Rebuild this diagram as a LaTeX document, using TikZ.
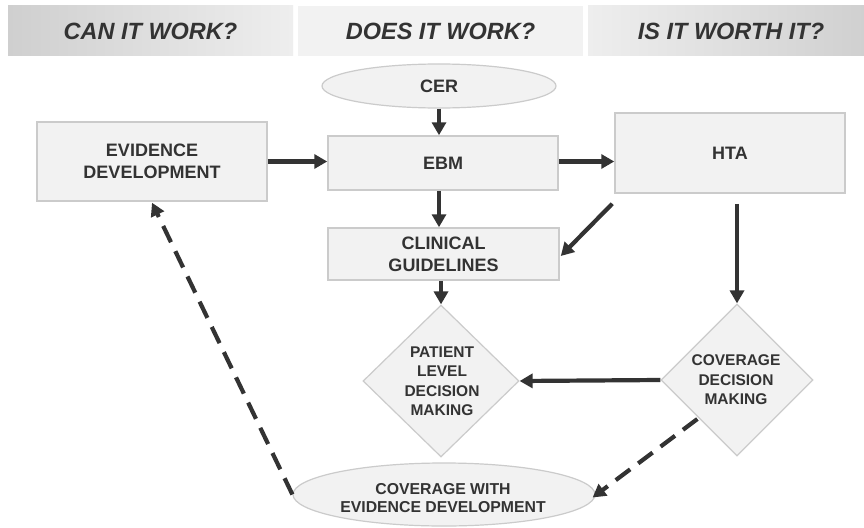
\documentclass[tikz,border=0pt]{standalone}
\usepackage{fontspec}
\setmainfont{Liberation Sans}
\usetikzlibrary{arrows.meta,shapes.geometric}
\definecolor{txt}{HTML}{333333}
\definecolor{boxfill}{HTML}{F2F2F2}
\definecolor{boxline}{HTML}{CBCBCB}
\definecolor{hdrdark}{HTML}{CFCFCF}
\definecolor{hdrlight}{HTML}{EEEEEE}
\begin{document}
\begin{tikzpicture}[x=1pt,y=-1pt,
  hdr/.style={rectangle, inner sep=0, minimum height=50pt, text=txt,
    font=\fontsize{23.5}{28}\selectfont\bfseries\itshape},
  box/.style={rectangle, draw=boxline, fill=boxfill, line width=1.5pt, inner sep=0,
    align=center, text=txt, font=\fontsize{18}{21.7}\selectfont\bfseries},
  ell/.style={ellipse, draw=boxline, fill=boxfill, line width=1.2pt, inner sep=0,
    align=center, text=txt},
  dia/.style={diamond, draw=boxline, fill=boxfill, line width=1.2pt, inner sep=0},
  diatext/.style={align=center, text=txt, inner sep=0,
    font=\fontsize{15.5}{19.5}\selectfont\bfseries},
  arr/.style={draw=txt, line width=4.2pt, -{Triangle[length=13pt,width=14pt]}},
  dasharr/.style={arr, dash pattern=on 18pt off 10pt}
]
\useasboundingbox (0,0) rectangle (864,527);
\fill[white] (0,0) rectangle (864,527);

% header bands
\node[hdr, minimum width=285pt, left color=hdrdark, right color=hdrlight] (h1) at (150.5,31) {CAN IT WORK?};
\node[hdr, minimum width=285pt, fill=boxfill] (h2) at (440.5,31) {DOES IT WORK?};
\node[hdr, minimum width=286pt, left color=hdrlight, right color=hdrdark] (h3) at (731,31) {IS IT WORTH IT?};

% nodes
\node[ell, minimum width=234pt, minimum height=44pt, font=\fontsize{18}{21.7}\selectfont\bfseries] (cer) at (439,86) {CER};
\node[box, minimum width=230pt, minimum height=54pt] (ebm) at (443,163) {EBM};
\node[box, minimum width=230pt, minimum height=79pt] (ev) at (152,161.5) {EVIDENCE\\DEVELOPMENT};
\node[box, minimum width=230pt, minimum height=80pt] (hta) at (730,153) {HTA};
\node[box, minimum width=231pt, minimum height=52pt] (clin) at (443.5,254) {CLINICAL\\GUIDELINES};
\node[dia, minimum width=156pt, minimum height=152pt] (pd) at (441,381) {};
\node[diatext] (pdt) at (442,381) {PATIENT\\LEVEL\\DECISION\\MAKING};
\node[dia, minimum width=152pt, minimum height=152pt] (cd) at (737,380) {};
\node[diatext] (cdt) at (736,380) {COVERAGE\\DECISION\\MAKING};
\node[ell, minimum width=302pt, minimum height=63pt] (ced) at (444,494.5) {};
\node[diatext, font=\fontsize{15.8}{18}\selectfont\bfseries] (cedt) at (443,498) {COVERAGE WITH\\EVIDENCE DEVELOPMENT};

% helper coordinates
\coordinate (htaA) at ([xshift=-2pt,yshift=-10pt]hta.south west);
\coordinate (htaB) at ([yshift=-10pt]cd.north |- hta.south);
\coordinate (cdA) at ([xshift=37pt,yshift=-39pt]cd.west);

% connectors
\draw[arr] (cer.south) -- (cer.south |- ebm.north);
\draw[arr] (ev.east) -- (ev.east -| ebm.west);
\draw[arr] (ebm.east |- ev.east) -- (ev.east -| hta.west);
\draw[arr] (cer.south |- ebm.south) -- (cer.south |- clin.north);
\draw[arr] (htaA) -- ([xshift=1pt,yshift=-2pt]clin.east);
\draw[arr] (htaB) -- (cd.north);
\draw[arr] (pd.north |- clin.south) -- (pd.north);
\draw[arr] (cd.west) -- (pd.east);
\draw[dasharr] (cdA) -- ([xshift=-3pt,yshift=-3pt]ced.east);
\draw[dasharr] (ced.west) -- ([yshift=-1pt]ev.south);
\end{tikzpicture}
\end{document}
